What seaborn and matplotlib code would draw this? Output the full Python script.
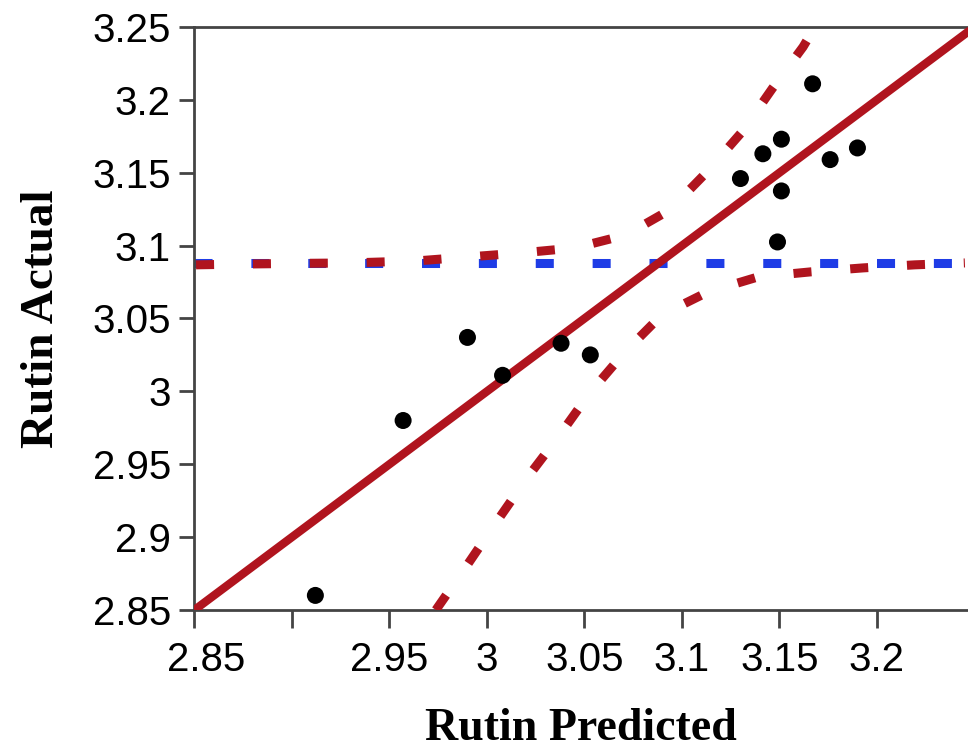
import matplotlib
matplotlib.use("Agg")
import matplotlib.pyplot as plt
import matplotlib.transforms as mtransforms
import seaborn as sns
import numpy as np
import pandas as pd

# ---- data ----
predicted = [2.912, 2.957, 2.990, 3.008, 3.038, 3.053, 3.130, 3.1415, 3.151, 3.151, 3.149, 3.167, 3.176, 3.190]
actual    = [2.860, 2.980, 3.037, 3.011, 3.033, 3.025, 3.146, 3.163, 3.173, 3.1375, 3.1025, 3.211, 3.159, 3.167]

fit_x = [2.85, 3.25]
fit_y = [2.85, 3.25]

mean_actual = 3.088

upper_x = [2.8508, 2.8785, 2.9041, 2.9297, 2.9641, 2.9913, 3.0179, 3.0451, 3.0713, 3.0938, 3.1128, 3.1308, 3.1462, 3.1621, 3.1682]
upper_y = [3.0868, 3.0874, 3.0878, 3.0881, 3.0895, 3.0923, 3.0950, 3.0984, 3.1073, 3.1245, 3.1505, 3.1780, 3.2075, 3.2363, 3.25]

lower_x = [2.9738, 2.9903, 3.0056, 3.0210, 3.0374, 3.0528, 3.0708, 3.0897, 3.1133, 3.1390, 3.1662, 3.1929, 3.2195, 3.2451]
lower_y = [2.85, 2.8817, 2.9118, 2.9414, 2.9702, 2.9990, 3.0271, 3.0525, 3.0682, 3.0785, 3.0820, 3.0847, 3.0868, 3.0881]

x_ticks = [2.85, 2.9, 2.95, 3.0, 3.05, 3.1, 3.15, 3.2]
x_tick_labels = ["2.85", "", "2.95", "3", "3.05", "3.1", "3.15", "3.2"]
y_ticks = [2.85, 2.9, 2.95, 3.0, 3.05, 3.1, 3.15, 3.2, 3.25]
y_tick_labels = ["2.85", "2.9", "2.95", "3", "3.05", "3.1", "3.15", "3.2", "3.25"]

x_label = "Rutin Predicted"
y_label = "Rutin Actual"

# ---- style ----
sns.set_style("ticks")
plt.rcParams['font.family'] = ['Liberation Sans', 'DejaVu Sans']

RED = "#B0141E"
BLUE = "#1E3CE6"
SPINE = "#444444"
DASH = (2.0, 4.3)

fig = plt.figure(figsize=(9.68, 7.49), dpi=100)
ax = fig.add_axes([0.2009, 0.1856, 0.7991, 0.7784])

x_lo, x_hi = 2.85, 3.2467
y_lo, y_hi = 2.85, 3.25

# mean line (blue dashed)
mean_df = pd.DataFrame({"x": [x_lo, x_hi], "y": [mean_actual, mean_actual]})
sns.lineplot(data=mean_df, x="x", y="y", ax=ax, color=BLUE, linewidth=6.5, zorder=2)
ax.lines[-1].set_linestyle((0, DASH))

# confidence curves (red dashed)
for cx, cy in [(upper_x, upper_y), (lower_x, lower_y)]:
    df = pd.DataFrame({"x": cx, "y": cy})
    sns.lineplot(data=df, x="x", y="y", ax=ax, color=RED, linewidth=6.5,
                 sort=False, zorder=3)
    ax.lines[-1].set_linestyle((0, DASH))

# fit line (red solid)
fit_df = pd.DataFrame({"x": fit_x, "y": fit_y})
sns.lineplot(data=fit_df, x="x", y="y", ax=ax, color=RED, linewidth=6.0, zorder=4)

# points
pts = pd.DataFrame({"pred": predicted, "act": actual})
sns.scatterplot(data=pts, x="pred", y="act", ax=ax, color="black", s=150,
                edgecolor="none", zorder=5)

ax.set_xlim(x_lo, x_hi)
ax.set_ylim(y_lo, y_hi)

ax.set_xticks(x_ticks)
ax.set_xticklabels(x_tick_labels)
ax.set_yticks(y_ticks)
ax.set_yticklabels(y_tick_labels)

for sp in ["left", "bottom", "top"]:
    ax.spines[sp].set_color(SPINE)
    ax.spines[sp].set_linewidth(2.0)
ax.spines["right"].set_visible(False)

ax.tick_params(axis="x", length=13, width=2.0, color=SPINE, labelsize=29, pad=9, labelcolor="black")
ax.tick_params(axis="y", length=11, width=2.0, color=SPINE, labelsize=29, pad=6, labelcolor="black")

# first x label sits a little right of its tick in the reference
first = ax.get_xticklabels()[0]
first.set_transform(first.get_transform() + mtransforms.ScaledTranslation(12 / 100, 0, fig.dpi_scale_trans))

serif = ["Liberation Serif", "DejaVu Serif"]
ax.set_xlabel(x_label, fontsize=33, fontweight="bold", family=serif, labelpad=21, color="black")
ax.set_ylabel(y_label, fontsize=34, fontweight="bold", family=serif, labelpad=21, color="black")

ax.grid(False)
fig.savefig("out.png", dpi=100)
